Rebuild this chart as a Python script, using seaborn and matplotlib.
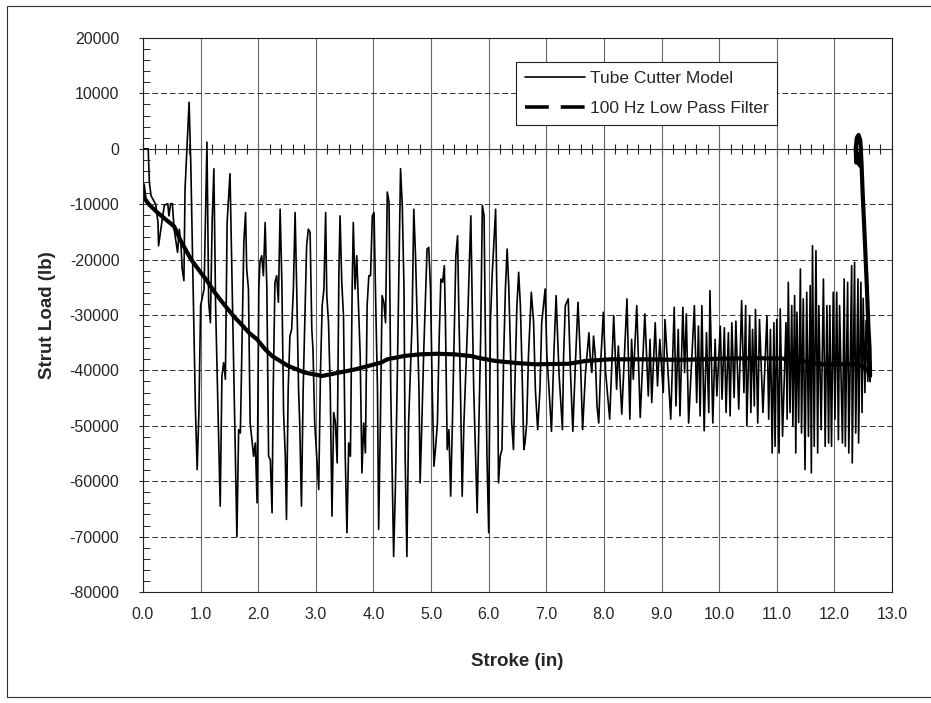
import pandas as pd
import matplotlib
matplotlib.use("Agg")
import matplotlib.pyplot as plt
import seaborn as sns
from matplotlib.lines import Line2D
from matplotlib.patches import Rectangle
from matplotlib.ticker import MultipleLocator, FormatStrFormatter

# Tube cutter model (raw), peak / trough by peak / trough
stroke_raw = [
    0.00, 0.09, 0.11, 0.14, 0.22, 0.26, 0.27, 0.31, 0.37, 0.43, 0.45, 0.48, 0.51, 0.54, 0.60, 0.63,
    0.66, 0.68, 0.71, 0.73, 0.77, 0.80, 0.83, 0.86, 0.91, 0.94, 0.97, 1.00, 1.06, 1.11, 1.14, 1.17,
    1.20, 1.23, 1.26, 1.34, 1.37, 1.40, 1.43, 1.46, 1.51, 1.55, 1.63, 1.66, 1.69, 1.75, 1.78, 1.80,
    1.83, 1.86, 1.92, 1.95, 1.98,
    2.01, 2.03, 2.06, 2.09, 2.12, 2.15, 2.18, 2.21, 2.24, 2.26, 2.29, 2.32, 2.35, 2.38, 2.41, 2.44,
    2.47, 2.49, 2.52, 2.55, 2.58, 2.61, 2.64, 2.67, 2.70, 2.72, 2.75, 2.78, 2.84, 2.87, 2.90, 2.93,
    2.95, 2.98, 3.05, 3.08, 3.11, 3.14, 3.17, 3.19, 3.22, 3.25, 3.28, 3.31, 3.34, 3.37, 3.40, 3.42,
    3.45, 3.48, 3.51, 3.54, 3.57, 3.60, 3.63, 3.65, 3.68, 3.71, 3.77, 3.80, 3.83, 3.86, 3.89, 3.92,
    3.95, 3.98, 4.01, 4.04, 4.07, 4.09,
    4.12, 4.15, 4.18, 4.21, 4.24, 4.27, 4.30, 4.35, 4.38, 4.41, 4.47, 4.50, 4.53, 4.55, 4.58, 4.61,
    4.64, 4.67, 4.70, 4.73, 4.76, 4.79, 4.81, 4.84, 4.87, 4.93, 4.96, 4.99, 5.02, 5.05, 5.08, 5.11,
    5.14, 5.17, 5.20, 5.23, 5.25, 5.28, 5.31, 5.34, 5.37, 5.40, 5.43, 5.46, 5.48, 5.51, 5.54, 5.57,
    5.63, 5.69, 5.71, 5.74, 5.80, 5.83, 5.86, 5.89, 5.92, 5.94, 5.97, 6.00,
    6.01, 6.03, 6.06, 6.12, 6.15, 6.17, 6.20, 6.23, 6.26, 6.29, 6.32, 6.35, 6.38, 6.40, 6.43, 6.46,
    6.49, 6.52, 6.55, 6.58, 6.61, 6.63, 6.66, 6.69, 6.74, 6.78, 6.81, 6.85, 6.89, 6.92, 6.98, 7.01,
    7.04, 7.09, 7.13, 7.17, 7.22, 7.28, 7.30, 7.33, 7.38, 7.42, 7.46, 7.51, 7.55, 7.59, 7.63, 7.68,
    7.74, 7.76, 7.79, 7.82, 7.85, 7.88, 7.91, 7.95, 7.99, 8.03,
    8.10, 8.17, 8.22, 8.25, 8.31, 8.40, 8.45, 8.48, 8.51, 8.57, 8.63, 8.71, 8.77, 8.80, 8.83, 8.89,
    8.93, 8.97, 9.03, 9.06, 9.16, 9.22, 9.25, 9.29, 9.32, 9.37, 9.40, 9.43, 9.47, 9.57, 9.61, 9.64,
    9.67, 9.70, 9.74, 9.78, 9.82, 9.84, 9.89, 9.93, 9.96, 10.02, 10.05, 10.09, 10.12, 10.16, 10.19,
    10.22, 10.26, 10.29, 10.34, 10.39, 10.43, 10.46, 10.48, 10.53, 10.55, 10.58, 10.61, 10.63, 10.67,
    10.70, 10.76, 10.83, 10.86, 10.89, 10.92, 10.95, 10.97, 11.00, 11.04, 11.06, 11.10, 11.16, 11.18,
    11.20, 11.23, 11.26, 11.28, 11.31, 11.33, 11.35, 11.38, 11.41, 11.43, 11.46, 11.49, 11.52, 11.55,
    11.58, 11.60, 11.62, 11.65, 11.68, 11.71, 11.73, 11.77, 11.81, 11.84, 11.87, 11.90, 11.92, 11.95,
    11.98, 12.01, 12.04, 12.07, 12.09, 12.14, 12.17, 12.19, 12.23, 12.25, 12.30, 12.31, 12.35, 12.37,
    12.41, 12.42, 12.46, 12.48, 12.50, 12.53, 12.55, 12.58, 12.60, 12.62,
    12.62, 12.60, 12.58, 12.55, 12.52, 12.49, 12.47, 12.45, 12.42, 12.39, 12.37, 12.38, 12.41, 12.44,
    12.46,
]
load_raw = [
    0, 0, -6000, -8500, -10000, -13300, -17500, -14500, -10200, -9900, -12100, -9900, -9900, -14500,
    -18700, -14500, -17500, -21700, -23800, -7200, 1800, 8400, -3000, -19300, -47000, -57900, -47600,
    -28300, -25300, 1200, -27700, -31400, -13300, -3600, -28300, -64500, -41000, -38600, -41600,
    -13300, -4500, -26500, -70000, -50700, -51300, -16900, -11500, -21700, -25300, -49500, -55500,
    -53100, -63900,
    -25300, -20500, -19300, -22900, -13300, -25300, -55500, -56100, -65700, -43400, -24100, -22900,
    -27700, -10900, -24100, -47600, -55500, -66900, -43400, -33800, -32600, -25300, -11500, -26500,
    -43400, -49500, -64500, -43400, -17500, -14500, -15100, -32600, -36200, -49500, -61500, -40400,
    -28300, -25300, -11500, -26500, -31400, -43400, -66300, -47600, -49500, -56700, -22300, -12100,
    -24100, -30200, -55500, -69300, -53100, -55500, -25300, -13300, -25300, -19300, -37400, -58500,
    -49500, -54900, -28300, -22900, -22900, -12100, -11500, -28300, -43400, -68700,
    -49500, -26500, -27700, -31400, -7800, -9600, -43400, -73600, -61500, -43400, -3600, -10200,
    -25300, -55500, -73600, -49500, -40400, -31400, -10900, -19300, -31400, -43400, -60300, -49500,
    -37400, -18100, -17800, -25300, -43400, -57300, -53700, -49500, -34400, -23500, -24100, -21100,
    -31400, -54300, -50700, -62700, -49500, -34400, -19300, -15700, -28300, -43400, -62700, -49500,
    -32600, -12100, -25300, -43400, -65700, -49500, -34400, -10200, -12100, -31400, -55500, -69300,
    -55500, -31400, -22900, -10900, -31400, -60300, -55500, -54300, -37400, -25300, -18100, -25300,
    -37400, -49500, -54300, -40400, -28300, -22300, -28300, -40400, -54300, -53100, -49500, -37400,
    -25900, -31400, -43400, -50700, -43400, -31400, -25300, -37400, -42200, -51000, -37400, -26500,
    -40400, -50700, -37400, -28300, -27100, -40400, -51000, -37400, -27700, -37400, -50700, -40400,
    -33200, -37400, -40400, -33800, -37400, -46400, -49500, -37400, -29500, -40400,
    -48800, -30100, -43400, -35600, -47900, -27100, -48800, -34400, -41600, -28300, -48500, -29800,
    -44600, -34400, -45800, -31400, -42800, -34400, -44000, -30800, -48800, -28600, -46400, -32600,
    -48200, -28600, -40400, -29800, -49500, -28300, -45800, -32000, -48200, -28300, -50900, -33200,
    -47600, -25600, -49500, -34400, -44600, -32000, -45200, -32300, -47600, -33200, -48200, -31400,
    -44900, -31100, -47000, -27400, -44000, -28300, -50000, -30100, -47600, -32600, -46400, -29000,
    -49500,
    -30800, -47600, -30200, -48800, -32600, -54900, -31400, -53700, -30800, -54900, -28900, -51900,
    -31400, -48800, -24100, -47600, -28300, -50000, -26500, -54900, -29500, -49400, -21700, -51300,
    -27100, -57900, -25900, -51900, -24700, -58500, -17500, -53700, -18400, -54900, -28300, -50700,
    -23500, -53700, -28300, -53100, -28300, -53700, -25900, -48800, -25900, -52500, -28300, -53100,
    -23500, -53700, -24100, -54900, -21100, -56700, -20500, -51300, -23500, -53100, -24100, -47600,
    -27000, -44000, -31000, -42000, -35000, -42000,
    -38000, -33000, -27000, -20000, -13000, -7000, -2400, 1500, 2500, 2000, 0, -2500, -1000, -3000,
    0,
]

# 100 Hz low pass filter
stroke_filt = [
    0.00, 0.03, 0.10, 0.25, 0.40, 0.54, 0.65, 0.83, 1.00, 1.11, 1.25, 1.40, 1.57, 1.69, 1.85, 1.98,
    2.12, 2.24, 2.52, 2.81, 3.11, 3.40, 3.69, 4.13, 4.24, 4.53, 4.81, 5.10, 5.40, 5.69, 5.85, 6.12,
    6.52, 6.81, 7.39, 7.68, 8.11, 8.70, 9.32, 10.00, 10.66, 11.21, 11.79, 12.37, 12.50, 12.58, 12.62,
    12.61, 12.59, 12.56, 12.53, 12.49, 12.47, 12.45, 12.42, 12.39, 12.37, 12.38, 12.41, 12.44, 12.46,
]
load_filt = [
    -6500, -9000, -10000, -11500, -12800, -14000, -16500, -19900, -22300, -23800, -26000, -28000,
    -30200, -31500, -33300, -34400, -36200, -37400, -39200, -40400, -41000, -40400, -39800, -38600,
    -38000, -37400, -37100, -37000, -37100, -37400, -37800, -38300, -38700, -38900, -38800, -38300,
    -38000, -38000, -38100, -37900, -37800, -37900, -38900, -38900, -39300, -40000, -41000,
    -36000, -32000, -24000, -16900, -7800, -2400, 1500, 2500, 2000, 0, -2500, -1000, -3000, 0,
]

raw_df = pd.DataFrame({"stroke": stroke_raw, "load": load_raw})
filt_df = pd.DataFrame({"stroke": stroke_filt, "load": load_filt})

sns.set_style("white")
plt.rcParams["font.family"] = ["Liberation Sans", "DejaVu Sans"]
plt.rcParams["axes.unicode_minus"] = False

fig = plt.figure(figsize=(9.31, 7.03), dpi=100)
ax = fig.add_axes([143 / 931, 1 - 592 / 703, (892 - 143) / 931, (592 - 38) / 703])

sns.lineplot(data=raw_df, x="stroke", y="load", sort=False, estimator=None,
             color="black", lw=1.2, ax=ax)
sns.lineplot(data=filt_df, x="stroke", y="load", sort=False, estimator=None,
             color="black", lw=3.0, ax=ax)

ax.set_xlim(0, 13)
ax.set_ylim(-80000, 20000)
ax.xaxis.set_major_locator(MultipleLocator(1))
ax.xaxis.set_major_formatter(FormatStrFormatter("%.1f"))
ax.yaxis.set_major_locator(MultipleLocator(10000))
ax.yaxis.set_minor_locator(MultipleLocator(2000))

ax.set_axisbelow(True)
ax.grid(axis="x", color="#666666", lw=0.8)
ax.grid(axis="y", color="#333333", lw=0.7, ls=(0, (6, 3)))
for sp in ax.spines.values():
    sp.set_visible(True)
    sp.set_color("#222222")
    sp.set_linewidth(0.8)

ax.tick_params(axis="x", which="both", bottom=False, length=0, pad=11, labelsize=11.5)
ax.tick_params(axis="y", which="major", left=True, direction="out", length=3, pad=14,
               labelsize=11.5)
ax.tick_params(axis="y", which="minor", left=True, direction="in", length=5, width=0.7)

# x axis crossing at zero load, with its own small ticks
zero_pos = (0 - ax.get_ylim()[0]) / (ax.get_ylim()[1] - ax.get_ylim()[0])
sec = ax.secondary_xaxis(zero_pos)
sec.xaxis.set_major_locator(MultipleLocator(1))
sec.xaxis.set_minor_locator(MultipleLocator(0.2))
sec.tick_params(axis="x", which="both", direction="inout", length=7, width=0.8,
                labeltop=False, labelbottom=False, colors="#222222")
sec.spines["bottom"].set_linewidth(0.8)
sec.spines["top"].set_linewidth(0.8)

ax.set_xlabel("Stroke (in)", fontsize=13.5, fontweight="bold", labelpad=22)
ax.set_ylabel("Strut Load (lb)", fontsize=13.5, fontweight="bold", labelpad=10)

handles = [Line2D([], [], color="black", lw=1.2),
           Line2D([], [], color="black", lw=2.6, ls=(0, (6.6, 3.3)))]
leg = ax.legend(handles, ["Tube Cutter Model", "100 Hz Low Pass Filter"],
                loc="upper left", bbox_to_anchor=(0.498, 0.957), borderaxespad=0,
                fancybox=False, edgecolor="#222222", framealpha=1, fontsize=12.5,
                handlelength=3.45, handletextpad=0.3, labelspacing=0.9, borderpad=0.5)
leg.get_frame().set_linewidth(0.8)

# outer frame of the chart area
fig.patches.append(Rectangle((7 / 931, 1 - 697 / 703), 1.0, (697 - 6) / 703,
                             transform=fig.transFigure, fill=False, lw=0.8,
                             edgecolor="#333333"))

fig.savefig("out.png", dpi=100)
